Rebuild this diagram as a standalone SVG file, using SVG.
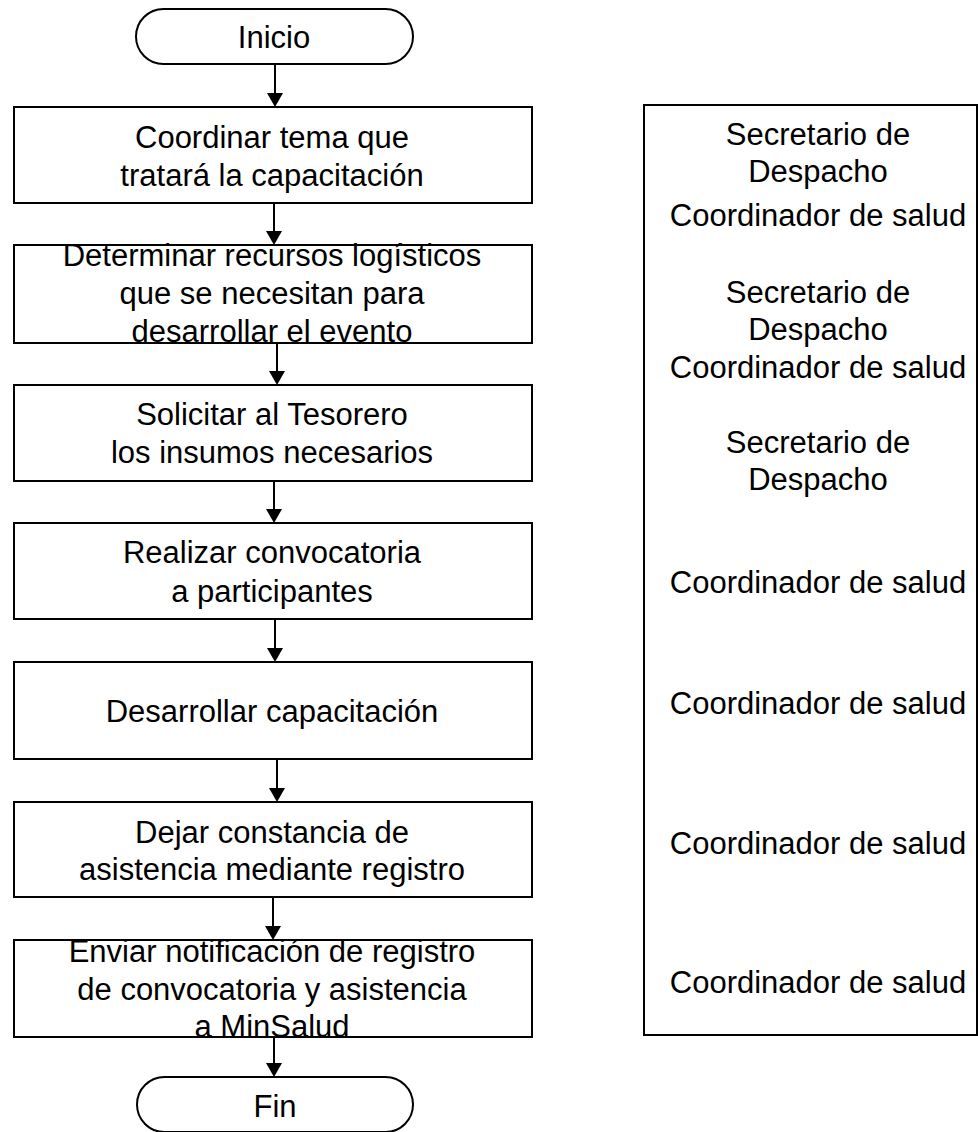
<svg xmlns="http://www.w3.org/2000/svg" width="978" height="1132" viewBox="0 0 978 1132">
<defs>
<style>
.box{fill:#fff;stroke:#000;stroke-width:2}
.t{font-family:"Liberation Sans",Arial,sans-serif;font-size:31px;fill:#000;text-anchor:middle}
.ln{stroke:#000;stroke-width:2;fill:none}
</style>
<marker id="ah" viewBox="0 0 16 14" refX="8" refY="14" markerWidth="16" markerHeight="14" markerUnits="userSpaceOnUse" orient="auto-start-reverse">
<path d="M0,0 L16,0 L8,14 Z" fill="#000"/>
</marker>
</defs>
<rect width="978" height="1132" fill="#fff"/>
<g id="connectors">
<line class="ln" x1="275" y1="64" x2="275" y2="93"/><path d="M267,93 L283,93 L275,107 Z"/>
<line class="ln" x1="274" y1="203" x2="274" y2="231"/><path d="M266,231 L282,231 L274,245 Z"/>
<line class="ln" x1="277" y1="343" x2="277" y2="371"/><path d="M269,371 L285,371 L277,385 Z"/>
<line class="ln" x1="274" y1="481" x2="274" y2="509"/><path d="M266,509 L282,509 L274,523 Z"/>
<line class="ln" x1="275" y1="619" x2="275" y2="648"/><path d="M267,648 L283,648 L275,662 Z"/>
<line class="ln" x1="277" y1="759" x2="277" y2="788"/><path d="M269,788 L285,788 L277,802 Z"/>
<line class="ln" x1="273" y1="897" x2="273" y2="926"/><path d="M265,926 L281,926 L273,940 Z"/>
<line class="ln" x1="274" y1="1037" x2="274" y2="1063"/><path d="M266,1063 L282,1063 L274,1077 Z"/>
</g>
<g id="inicio">
<rect class="box" x="136" y="9" width="277" height="55" rx="27.5" ry="27.5"/>
<text class="t" x="274" y="48">Inicio</text>
</g>
<g id="paso1">
<rect class="box" x="14" y="107" width="518" height="96"/>
<text class="t" x="272" y="148">Coordinar tema que</text>
<text class="t" x="272" y="186">tratará la capacitación</text>
</g>
<g id="paso2">
<rect class="box" x="14" y="245" width="518" height="98"/>
<text class="t" x="272" y="266">Determinar recursos logísticos</text>
<text class="t" x="272" y="304">que se necesitan para</text>
<text class="t" x="272" y="342">desarrollar el evento</text>
</g>
<g id="paso3">
<rect class="box" x="14" y="385" width="518" height="96"/>
<text class="t" x="272" y="425">Solicitar al Tesorero</text>
<text class="t" x="272" y="463">los insumos necesarios</text>
</g>
<g id="paso4">
<rect class="box" x="14" y="523" width="518" height="96"/>
<text class="t" x="272" y="563">Realizar convocatoria</text>
<text class="t" x="272" y="602">a participantes</text>
</g>
<g id="paso5">
<rect class="box" x="14" y="662" width="518" height="97"/>
<text class="t" x="272" y="722">Desarrollar capacitación</text>
</g>
<g id="paso6">
<rect class="box" x="14" y="802" width="518" height="95"/>
<text class="t" x="272" y="843">Dejar constancia de</text>
<text class="t" x="272" y="880">asistencia mediante registro</text>
</g>
<g id="paso7">
<rect class="box" x="14" y="940" width="518" height="97"/>
<text class="t" x="272" y="962">Enviar notificación de registro</text>
<text class="t" x="272" y="1000">de convocatoria y asistencia</text>
<text class="t" x="272" y="1037">a MinSalud</text>
</g>
<g id="fin">
<rect class="box" x="137" y="1077" width="276" height="55" rx="27.5" ry="27.5"/>
<text class="t" x="275" y="1117">Fin</text>
</g>
<g id="responsables">
<rect class="box" x="644" y="105" width="333" height="930"/>
<text class="t" x="818" y="145">Secretario de</text>
<text class="t" x="818" y="182">Despacho</text>
<text class="t" x="818" y="226">Coordinador de salud</text>
<text class="t" x="818" y="303">Secretario de</text>
<text class="t" x="818" y="340">Despacho</text>
<text class="t" x="818" y="378">Coordinador de salud</text>
<text class="t" x="818" y="453">Secretario de</text>
<text class="t" x="818" y="490">Despacho</text>
<text class="t" x="818" y="593">Coordinador de salud</text>
<text class="t" x="818" y="714">Coordinador de salud</text>
<text class="t" x="818" y="854">Coordinador de salud</text>
<text class="t" x="818" y="993">Coordinador de salud</text>
</g>
</svg>
